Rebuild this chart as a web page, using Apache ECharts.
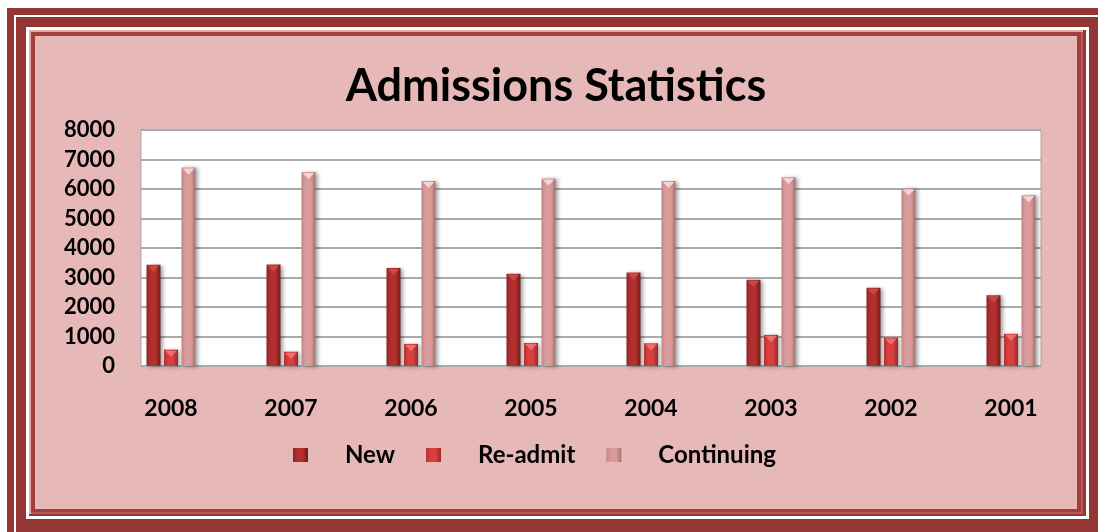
<!DOCTYPE html>
<html>
<head>
<meta charset="utf-8">
<script src="https://cdn.jsdelivr.net/npm/echarts@6/dist/echarts.min.js"></script>
<style>
	html, body { margin: 0; padding: 0; width: 1098px; height: 532px; overflow: hidden; background: #fff; }
	/* Rahmen wie im Word-Dokument */
	.outer { position: absolute; left: 7px; top: 8px; width: 1100px; height: 540px; background: #943634; }
	.line1 { position: absolute; left: 14px; top: 15px; width: 1200px; height: 1200px; border-left: 2px solid #fff; border-top: 2px solid #fff; }
	.line2 { position: absolute; left: 26px; top: 27px; width: 1057px; height: 486px; border: 3px solid #fff; background: #943634; }
	.frame { position: absolute; left: 29px; top: 30px; width: 1054px; height: 484px; background: #A43F3D; box-shadow: inset 1px 1px 0 1px #E2AAA8, inset -2px -2px 0 0 #B85957; }
	#chart { position: absolute; left: 35px; top: 36px; width: 1042px; height: 473px; background: #E6B8B7; }
</style>
</head>
<body>
<div class="outer"></div>
<div class="line1"></div>
<div class="line2"></div>
<div class="frame"></div>
<div id="chart"></div>
<script>
// Daten
var years = ['2008', '2007', '2006', '2005', '2004', '2003', '2002', '2001'];
var newAdm = [3430, 3440, 3320, 3130, 3170, 2920, 2650, 2400];
var readmit = [555, 485, 750, 780, 770, 1055, 960, 1090];
var continuing = [6730, 6580, 6270, 6360, 6270, 6400, 6020, 5790];
var seriesNames = ['New', 'Re-admit', 'Continuing'];

var FONT = 'Lato';
var BAR_W = 14;
var STEP = 17.5;	// Abstand zwischen den Balken einer Gruppe

function barGradient(edgeL, light, edgeR) {
	return new echarts.graphic.LinearGradient(0, 0, 1, 0, [
		{ offset: 0, color: edgeL },
		{ offset: 0.3, color: light },
		{ offset: 0.65, color: light },
		{ offset: 1, color: edgeR }
	]);
}

var colors = [
	barGradient('#8A2624', '#B3302E', '#6F1B1A'),
	barGradient('#B3302F', '#D8403F', '#9E2624'),
	barGradient('#C48685', '#D99C9B', '#A57372')
];
var flatColors = ['#A52A28', '#CF3B3A', '#D29594'];
var bevelColors = ['#CC4A48', '#F07472', '#F6DADA'];

function makeBar(name, data, idx) {
	return {
		name: name,
		type: 'bar',
		xAxisIndex: 1,
		yAxisIndex: 1,
		barWidth: BAR_W,
		barGap: '25%',
		data: data,
		color: flatColors[idx],
		itemStyle: {
			color: colors[idx],
			shadowBlur: 4,
			shadowOffsetX: 2,
			shadowOffsetY: 1,
			shadowColor: 'rgba(0,0,0,0.35)'
		},
		z: 2
	};
}

// kleine Dreiecke oben auf den Balken (Abschrägung)
function makeBevel(name, data, idx) {
	return {
		name: name + '-top',
		type: 'scatter',
		xAxisIndex: 1,
		yAxisIndex: 1,
		symbol: 'triangle',
		symbolRotate: 180,
		symbolSize: [BAR_W - 2, 6],
		symbolOffset: [(idx - 1) * STEP, 4],
		itemStyle: { color: bevelColors[idx], opacity: 0.9 },
		data: data,
		silent: true,
		z: 3
	};
}

var chart = echarts.init(document.getElementById('chart'), null, { renderer: 'canvas' });

chart.setOption({
	animation: false,
	backgroundColor: '#E6B8B7',
	title: {
		text: 'Admissions Statistics',
		left: 'center',
		top: 23,
		textStyle: { fontFamily: FONT, fontWeight: 'bold', fontSize: 45, color: '#000' }
	},
	legend: {
		left: 253,
		top: 402,
		itemWidth: 15,
		itemHeight: 14,
		itemGap: 31,
		icon: 'rect',
		data: seriesNames,
		textStyle: { fontFamily: FONT, fontWeight: 'bold', fontSize: 24, color: '#000', padding: [0, 0, 0, 32] }
	},
	grid: [
		// weißer Hintergrund mit Gitterlinien
		{ left: 106, right: 36, top: 94, bottom: 143, show: true, backgroundColor: '#fff', borderColor: '#A6A6A6', borderWidth: 1 },
		// Balken (Kategorien etwas breiter als die Fläche)
		{ left: 76, right: 6, top: 94, bottom: 143 }
	],
	xAxis: [
		{ type: 'category', gridIndex: 0, data: years, show: false },
		{
			type: 'category', gridIndex: 1, data: years,
			axisLine: { show: false }, axisTick: { show: false },
			axisLabel: { margin: 31, fontFamily: FONT, fontWeight: 'bold', fontSize: 23, color: '#000' }
		}
	],
	yAxis: [
		{
			type: 'value', gridIndex: 0, min: 0, max: 8000, interval: 1000,
			axisLine: { show: false }, axisTick: { show: false },
			splitLine: { lineStyle: { color: '#ABABAB', width: 2 } },
			axisLabel: {
				margin: 26, fontFamily: FONT, fontWeight: 'bold', fontSize: 22, color: '#000',
				formatter: function (v) { return String(v); }
			}
		},
		{ type: 'value', gridIndex: 1, min: 0, max: 8000, show: false }
	],
	series: [
		makeBar(seriesNames[0], newAdm, 0),
		makeBar(seriesNames[1], readmit, 1),
		makeBar(seriesNames[2], continuing, 2),
		makeBevel(seriesNames[0], newAdm, 0),
		makeBevel(seriesNames[1], readmit, 1),
		makeBevel(seriesNames[2], continuing, 2)
	]
});
</script>
</body>
</html>
